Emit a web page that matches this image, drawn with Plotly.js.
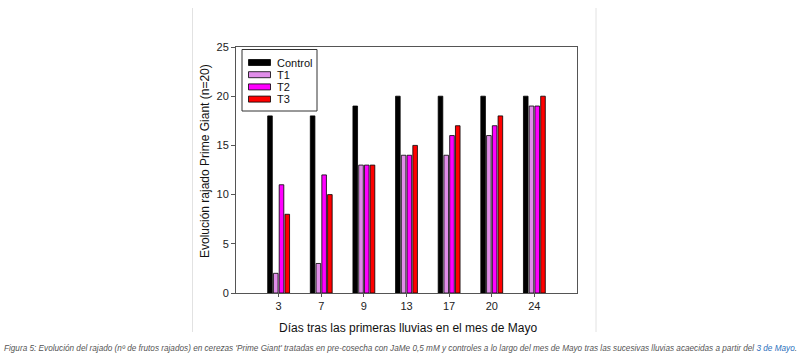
<!DOCTYPE html>
<html>
<head>
<meta charset="utf-8">
<script src="https://cdn.plot.ly/plotly-3.0.1.min.js"></script>
<style>html,body{margin:0;padding:0;background:#fff;}#chart{width:800px;height:358px;}</style>
</head>
<body>
<div id="chart"></div>
<script>
var days = ["3", "7", "9", "13", "17", "20", "24"];
var seriesNames = ["Control", "T1", "T2", "T3"];
var control = [18, 18, 19, 20, 20, 20, 20];
var t1 = [2, 3, 13, 14, 14, 16, 19];
var t2 = [11, 12, 13, 14, 16, 17, 19];
var t3 = [8, 10, 13, 15, 17, 18, 20];
var yTicks = [0, 5, 10, 15, 20, 25];

var colors = ["#000000", "#e08de8", "#ff00ff", "#ff0000"];
var values = [control, t1, t2, t3];

var traces = values.map(function (v, i) {
  return {
    type: "bar",
    name: seriesNames[i],
    x: days,
    y: v,
    marker: {color: colors[i], line: {color: "#000", width: 0.8}},
    hoverinfo: "x+y+name",
    showlegend: false
  };
});

var F = "Liberation Sans, Arial, sans-serif";
var L = 236, R = 577, T = 47, B = 293;
function px(x) { return (x - L) / (R - L); }
function py(y) { return (B - y) / (B - T); }

var shapes = [
  {type: "line", xref: "paper", yref: "paper", x0: px(192.5), x1: px(192.5), y0: py(8), y1: py(332), line: {color: "#e2e2e2", width: 1}},
  {type: "line", xref: "paper", yref: "paper", x0: px(596), x1: px(596), y0: py(8), y1: py(332), line: {color: "#e2e2e2", width: 1}},
  // legend box
  {type: "rect", xref: "paper", yref: "paper", x0: px(242), x1: px(317), y0: py(111), y1: py(49.5), line: {color: "#333", width: 1}, fillcolor: "#fff", layer: "above"}
];
var annotations = [];
seriesNames.forEach(function (name, i) {
  var yc = 62.5 + i * 12.2;
  shapes.push({type: "rect", xref: "paper", yref: "paper", x0: px(248.5), x1: px(270.5), y0: py(yc + 3), y1: py(yc - 3),
    fillcolor: colors[i], line: {color: "#000", width: 0.8}, layer: "above"});
  annotations.push({xref: "paper", yref: "paper", x: px(275), y: py(yc), xanchor: "left", yanchor: "middle",
    showarrow: false, text: name, font: {family: F, size: 11, color: "#111"}});
});
annotations.push({
  xref: "paper", yref: "paper", x: px(205), y: py(161), xanchor: "center", yanchor: "middle",
  textangle: -90, showarrow: false, text: "Evolución rajado Prime Giant (n=20)",
  font: {family: F, size: 12, color: "#111"}
});
annotations.push({
  xref: "paper", yref: "paper", x: px(407.5), y: py(328), xanchor: "center", yanchor: "middle",
  showarrow: false, text: "Días tras las primeras lluvias en el mes de Mayo",
  font: {family: F, size: 12, color: "#111"}
});
annotations.push({
  xref: "paper", yref: "paper", x: px(2), y: py(348.5), xanchor: "left", yanchor: "middle",
  showarrow: false,
  text: "<i>Figura 5: Evolución del rajado (nº de frutos rajados) en cerezas 'Prime Giant' tratadas en pre-cosecha con JaMe 0,5 mM y controles a lo largo del mes de Mayo tras las sucesivas lluvias acaecidas a partir del <span style='color:#2a6ebb'>3 de Mayo</span>.</i>",
  font: {family: F, size: 8.2, color: "#555"}
});

var layout = {
  width: 800, height: 358,
  margin: {l: L, r: 800 - R, t: T, b: 358 - B},
  paper_bgcolor: "#fff", plot_bgcolor: "#fff",
  font: {family: F, size: 11, color: "#222"},
  barmode: "group",
  bargap: 0.46,
  bargroupgap: 0.2,
  showlegend: false,
  xaxis: {
    type: "category",
    range: [-1, 7],
    showline: true, linecolor: "#555", linewidth: 1, mirror: true,
    ticks: "outside", ticklen: 3, tickcolor: "#555",
    showgrid: false, zeroline: false,
    tickfont: {family: F, size: 11, color: "#222"}
  },
  yaxis: {
    range: [0, 25],
    tickvals: yTicks,
    showline: true, linecolor: "#555", linewidth: 1, mirror: true,
    ticks: "outside", ticklen: 4, tickcolor: "#555",
    showgrid: false, zeroline: false,
    tickfont: {family: F, size: 11, color: "#222"}
  },
  shapes: shapes,
  annotations: annotations
};

Plotly.newPlot("chart", traces, layout, {displayModeBar: false, staticPlot: true});
</script>
</body>
</html>
